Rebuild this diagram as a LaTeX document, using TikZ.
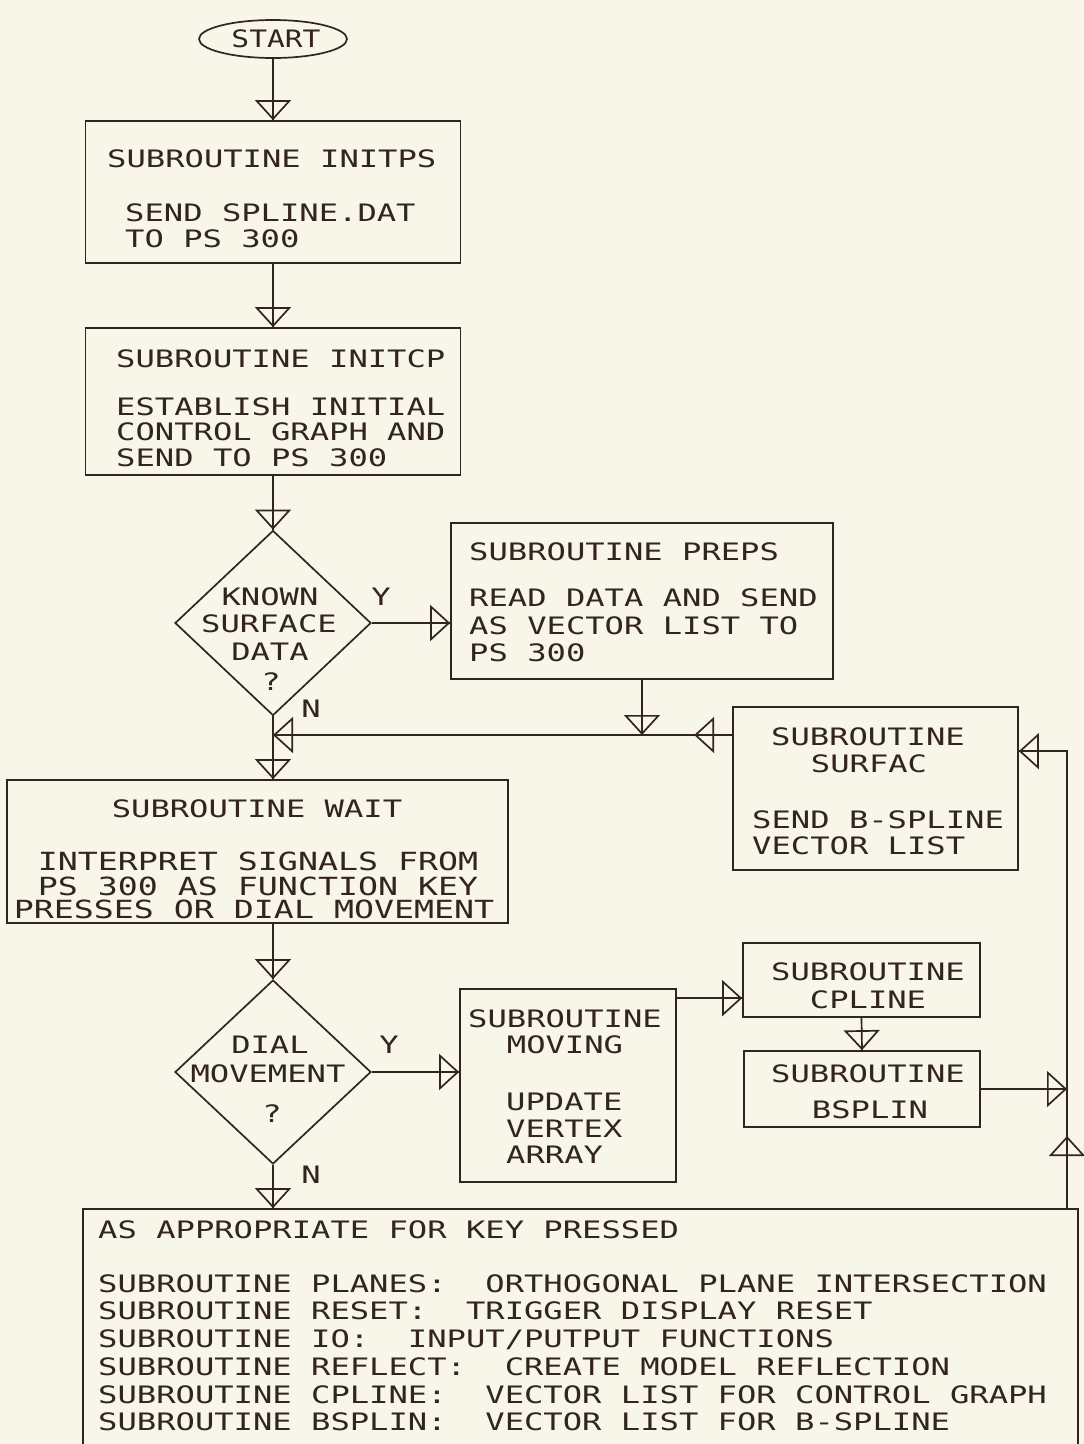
\documentclass[tikz,border=0pt]{standalone}
\usepackage{fontspec}
\usetikzlibrary{shapes.geometric,arrows.meta,decorations.markings}
\definecolor{paper}{RGB}{248,246,233}
\definecolor{ink}{RGB}{50,36,32}
% plotter-like lettering: fixed pitch, widened
\newfontfamily\plotfont[FakeStretch=1.34]{DejaVu Sans Mono}
\newfontfamily\plotwide[FakeStretch=1.33]{DejaVu Sans Mono}

\begin{document}
\begin{tikzpicture}[x=1pt,y=-1pt,
  tri/.tip={Triangle[open,length=20pt,width=36pt]},
  line/.style={draw=ink,line width=1.7pt},
  blk/.style={line,rectangle,inner sep=0pt},
  dia/.style={line,diamond,inner sep=0pt,minimum width=196pt},
  txt/.style={font={\plotfont\fontsize{24pt}{28pt}\selectfont\frenchspacing},text=ink,inner sep=0pt,anchor=base west},
  ctxt/.style={txt,anchor=base},
  wtxt/.style={ctxt,font={\plotwide\fontsize{25pt}{28pt}\selectfont\frenchspacing}},
  flow/.style={line,postaction={decorate},decoration={markings,
      mark=at position 1 with {\arrow[line width=1.7pt]{tri}}}},
  flowmid/.style={line,postaction={decorate},decoration={markings,
      mark=at position #1 with {\arrow[line width=1.7pt]{tri}},
      mark=at position 1 with {\arrow[line width=1.7pt]{tri}}}},
]
\useasboundingbox (0,0) rectangle (1084,1444);
\fill[paper] (0,0) rectangle (1084,1444);
\begin{scope}
\clip (0,0) rectangle (1084,1444);

% ---- shapes ----
\node[line,ellipse,minimum width=148pt,minimum height=38pt,inner sep=0pt] (start) at (273,39) {};
\node[blk,minimum width=375pt,minimum height=142pt] (initps) at (273,192) {};
\node[blk,minimum width=375pt,minimum height=147pt] (initcp) at (273,401.5) {};
\node[dia,minimum height=185pt] (known) at (273,623) {};
\node[blk,minimum width=382pt,minimum height=156pt] (preps) at (642,601) {};
\node[blk,minimum width=285pt,minimum height=163pt] (surfac) at (875.5,788.5) {};
\node[blk,minimum width=501pt,minimum height=143pt] (wait) at (257.5,851.5) {};
\node[dia,minimum height=184pt] (dial) at (273,1072) {};
\node[blk,minimum width=216pt,minimum height=193pt] (moving) at (568,1085.5) {};
\node[blk,minimum width=237pt,minimum height=74pt] (cpline) at (861.5,980) {};
\node[blk,minimum width=236pt,minimum height=76pt] (bsplin) at (862,1089) {};
\node[blk,minimum width=995pt,minimum height=271pt] (keys) at (580.5,1344.5) {};

\coordinate (merge) at (273,735);
\coordinate (railfoot) at (1067,1209);

% ---- texts ----
\node[ctxt] (tstart) at (276,47) {\scalebox{0.92}[1]{START}};

\node[txt] (ta1) at (107,167) {SUBROUTINE INITPS};
\node[txt] (ta2) at (125,221) {SEND SPLINE.DAT};
\node[txt] (ta3) at (125,247) {TO PS 300};

\node[txt] (tb1) at (116,367) {SUBROUTINE INITCP};
\node[txt] (tb2) at (116,415) {ESTABLISH INITIAL};
\node[txt] (tb3) at (116,440) {CONTROL GRAPH AND};
\node[txt] (tb4) at (116,466) {SEND TO PS 300};

\node[ctxt] (tk1) at (270,605) {KNOWN};
\node[ctxt] (tk2) at (269,632) {SURFACE};
\node[ctxt] (tk3) at (270,660) {DATA};
\node[ctxt] (tk4) at (271,690) {?};
\node[ctxt] (ky) at (381,605) {Y};
\node[ctxt] (kn) at (311,717) {N};

\node[txt] (tp1) at (469,560) {SUBROUTINE PREPS};
\node[txt] (tp2) at (469,606) {READ DATA AND SEND};
\node[txt] (tp3) at (469,634) {AS VECTOR LIST TO};
\node[txt] (tp4) at (469,661) {PS 300};

\node[ctxt] (ts1) at (868,745) {SUBROUTINE};
\node[ctxt] (ts2) at (869,772) {SURFAC};
\node[txt] (ts3) at (752,828) {SEND B-SPLINE};
\node[txt] (ts4) at (752,854) {VECTOR LIST};

\node[ctxt] (tw1) at (257,817) {SUBROUTINE WAIT};
\node[wtxt] (tw2) at (258,870) {INTERPRET SIGNALS FROM};
\node[wtxt] (tw3) at (258,895) {PS 300 AS FUNCTION KEY};
\node[wtxt] (tw4) at (254,918) {PRESSES OR DIAL MOVEMENT};

\node[ctxt] (td1) at (270,1053) {DIAL};
\node[ctxt] (td2) at (268,1082) {MOVEMENT};
\node[ctxt] (td3) at (272,1122) {?};
\node[ctxt] (dy) at (389,1053) {Y};
\node[ctxt] (dn) at (311,1183) {N};

\node[ctxt] (tm1) at (565,1027) {SUBROUTINE};
\node[ctxt] (tm2) at (565,1053) {MOVING};
\node[txt] (tm3) at (506,1110) {UPDATE};
\node[txt] (tm4) at (506,1137) {VERTEX};
\node[txt] (tm5) at (506,1163) {ARRAY};

\node[ctxt] (tc1) at (868,980) {SUBROUTINE};
\node[ctxt] (tc2) at (868,1008) {CPLINE};

\node[ctxt] (tq1) at (868,1082) {SUBROUTINE};
\node[ctxt] (tq2) at (870,1118) {BSPLIN};

\node[txt] (tx0) at (98,1238) {AS APPROPRIATE FOR KEY PRESSED};
\node[txt] (tx1) at (98,1292) {SUBROUTINE PLANES:~~ORTHOGONAL PLANE INTERSECTION};
\node[txt] (tx2) at (98,1319) {SUBROUTINE RESET:~~TRIGGER DISPLAY RESET};
\node[txt] (tx3) at (98,1347) {SUBROUTINE IO:~~INPUT/PUTPUT FUNCTIONS};
\node[txt] (tx4) at (98,1375) {SUBROUTINE REFLECT:~~CREATE MODEL REFLECTION};
\node[txt] (tx5) at (98,1403) {SUBROUTINE CPLINE:~~VECTOR LIST FOR CONTROL GRAPH};
\node[txt] (tx6) at (98,1430) {SUBROUTINE BSPLIN:~~VECTOR LIST FOR B-SPLINE};

% ---- connectors ----
\draw[flow] (start.south) -- (initps.north);
\draw[flow] (initps.south) -- (initcp.north);
\draw[flow] (initcp.south) -- (known.north);
\draw[flow] (known.east) -- (known.east -| preps.west);
\draw[flow] (known.south) -- (known.south |- wait.north);
\draw[flow] (preps.south) -- (preps.south |- merge);
\draw[flowmid=38pt] (merge -| surfac.west) -- (merge);
\draw[flow] (dial.north |- wait.south) -- (dial.north);
\draw[flow] (dial.east) -- (dial.east -| moving.west);
\draw[flow] ([yshift=-10pt]moving.north east) -- ([yshift=-10pt]moving.north east -| cpline.west);
\draw[flow] (cpline.south) -- (bsplin.north);
\draw[flow] (bsplin.east) -- (bsplin.east -| railfoot);
\draw[flowmid=73pt] (railfoot) |- ([yshift=-45pt]surfac.north east);
\draw[flow] (dial.south) -- (dial.south |- keys.north);
\end{scope}
\end{tikzpicture}
\end{document}
